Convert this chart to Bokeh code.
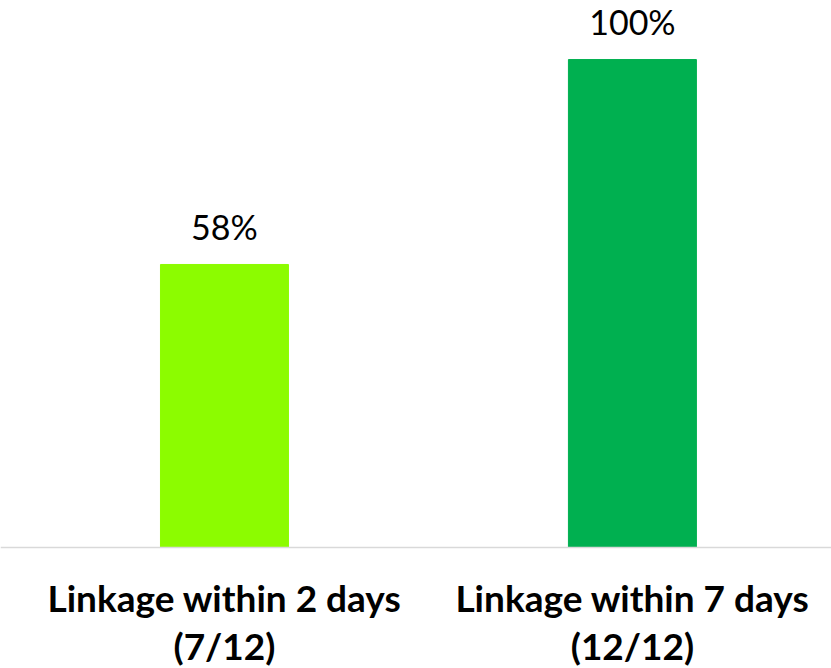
from bokeh.plotting import figure
from bokeh.models import Range1d, ColumnDataSource, Span
from bokeh.core.properties import value
from bokeh.embed import file_html
from bokeh.resources import INLINE

# Share of cases linked to care, by time window
categories = ["Linkage within 2 days", "Linkage within 7 days"]
fractions = ["(7/12)", "(12/12)"]
percent_linked = [58, 100]
bar_colors = ["#8CFC00", "#00B050"]

positions = list(range(len(categories)))

source = ColumnDataSource(data=dict(
    x=positions,
    top=percent_linked,
    base=[0] * len(positions),
    color=bar_colors,
    label=[f"{v}%" for v in percent_linked],
    category=categories,
    fraction=fractions,
))

W, H = 831, 668
# the frame covers the whole canvas; the band below zero holds the category labels
p = figure(
    width=W, height=H,
    x_range=Range1d(-0.549, 1.488),
    y_range=Range1d(-24.8, 112.1),
    output_backend="svg",
    toolbar_location=None,
    x_axis_location=None,
    y_axis_location=None,
    min_border=0,
)
p.outline_line_color = None
p.grid.visible = False
p.background_fill_color = "white"
p.border_fill_color = "white"

p.vbar(x="x", top="top", bottom="base", width=0.3137, color="color", source=source)

# baseline rule
p.add_layout(Span(location=0, dimension="width", line_color="#d9d9d9", line_width=1.5))

# value labels above the bars
p.text(
    x="x", y="top", text="label", source=source,
    text_font=value("Lato"), text_font_size="34px",
    text_align="center", text_baseline="alphabetic",
    y_offset=-38, text_color="black",
)

# two-line category labels under the baseline
for col, dy in (("category", 50), ("fraction", 98)):
    p.text(
        x="x", y="base", text=col, source=source,
        text_font=value("Lato"), text_font_style="bold", text_font_size="37px",
        text_align="center", text_baseline="alphabetic",
        y_offset=dy, text_color="black",
    )

open("out.html", "w").write(file_html(p, INLINE))
